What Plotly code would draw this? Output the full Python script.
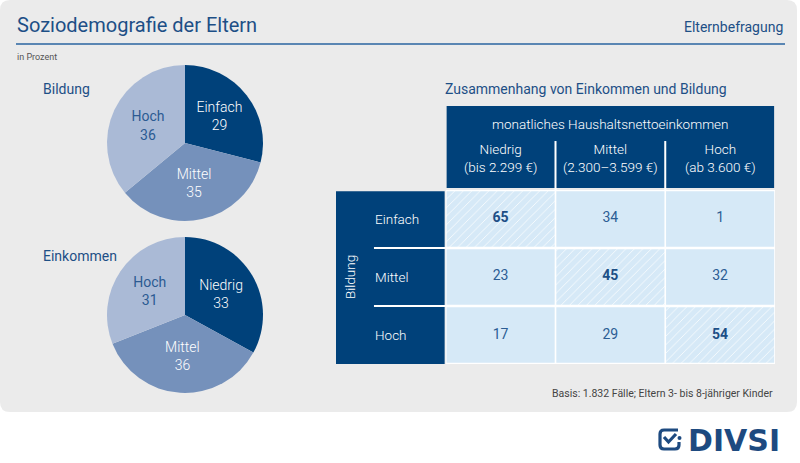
import plotly.graph_objects as go

W, H = 800, 463

# pie data
edu_labels = ["Einfach", "Mittel", "Hoch"]
edu_values = [29, 35, 36]
inc_labels = ["Niedrig", "Mittel", "Hoch"]
inc_values = [33, 36, 31]

# cross table data
col_names = ["Niedrig", "Mittel", "Hoch"]
col_ranges = ["(bis 2.299 €)", "(2.300–3.599 €)", "(ab 3.600 €)"]
row_names = ["Einfach", "Mittel", "Hoch"]
matrix = [
    [65, 34, 1],
    [23, 45, 32],
    [17, 29, 54],
]

DARK = "#00417a"
MID = "#7591bb"
LIGHT = "#aabad6"
CELL = "#d6e9f7"
TXT = "#1d4f86"
BG = "#ebebeb"
FONT = "Roboto"
LIGHTW = 300


def px(x):
    return x / W


def py(y):
    return 1 - y / H


def rounded_rect(x0, y0, x1, y1, r):
    # path in paper coords from pixel box (top-left origin)
    rx, ry = r / W, r / H
    a, b, c, d = px(x0), px(x1), py(y0), py(y1)
    return (
        f"M {a + rx},{c} L {b - rx},{c} Q {b},{c} {b},{c - ry} "
        f"L {b},{d + ry} Q {b},{d} {b - rx},{d} L {a + rx},{d} "
        f"Q {a},{d} {a},{d + ry} L {a},{c - ry} Q {a},{c} {a + rx},{c} Z"
    )


fig = go.Figure()

pie_colors = [DARK, MID, LIGHT]
pie_text_colors = ["white", "white", "#2c5a92"]

for labels, values, top, bottom in [
    (edu_labels, edu_values, 65, 221),
    (inc_labels, inc_values, 237, 393),
]:
    fig.add_trace(
        go.Pie(
            labels=labels,
            values=values,
            sort=False,
            direction="clockwise",
            rotation=0,
            marker=dict(colors=pie_colors, line=dict(width=0)),
            texttemplate="%{label}<br>%{value}",
            textposition="inside",
            insidetextorientation="horizontal",
            textfont=dict(family=FONT, size=14, color=pie_text_colors, weight=[300, 300, 400]),
            domain=dict(x=[px(107), px(263)], y=[py(bottom), py(top)]),
            showlegend=False,
            hoverinfo="skip",
        )
    )

# table cells as bars on their own axes
g = 0.02
cx, cbase, cy, shapes_pat, ctext = [], [], [], [], []
for r, row in enumerate(matrix):
    for c, v in enumerate(row):
        cx.append(c)
        cbase.append(r - 0.5 + g)
        cy.append(1 - 2 * g)
        shapes_pat.append("/" if r == c else "")
        ctext.append(f"<b>{v}</b>" if r == c else str(v))

fig.add_trace(
    go.Bar(
        x=cx,
        y=cy,
        base=cbase,
        width=0.985,
        marker=dict(
            color=CELL,
            line=dict(width=0),
            pattern=dict(shape=shapes_pat, fgcolor="white", bgcolor=CELL,
                         size=6, solidity=0.12, fillmode="replace"),
        ),
        xaxis="x3",
        yaxis="y3",
        showlegend=False,
        hoverinfo="skip",
    )
)
fig.add_trace(
    go.Scatter(
        x=cx,
        y=[b - g + 0.5 for b in cbase],
        mode="text",
        text=ctext,
        textfont=dict(family=FONT, size=14,
                      color=[TXT if r == c else "#2c5d94" for r in range(3) for c in range(3)]),
        xaxis="x3",
        yaxis="y3",
        showlegend=False,
        hoverinfo="skip",
    )
)

Y_TOP = -1.948
shapes = [
    dict(type="path", path=rounded_rect(0, 0, 797, 412, 10), xref="paper", yref="paper",
         fillcolor=BG, line=dict(width=0), layer="below"),
    dict(type="line", xref="paper", yref="paper", x0=px(16), x1=px(785), y0=py(44), y1=py(44),
         line=dict(color="#2a64a0", width=1.5)),
    # white backing of data cells
    dict(type="rect", xref="x3", yref="y3", x0=-0.5, x1=2.505, y0=-0.5, y1=2.52,
         fillcolor="white", line=dict(width=0), layer="below"),
    # column header block
    dict(type="rect", xref="x3", yref="y3", x0=-0.5 + 0.008, x1=2.5 - 0.008, y0=Y_TOP, y1=-0.5 - 0.035,
         fillcolor=DARK, line=dict(width=0)),
    # row header block
    dict(type="rect", xref="x3", yref="y3", x0=-1.5, x1=-0.5 - 0.01, y0=-0.5 + 0.02, y1=2.5,
         fillcolor=DARK, line=dict(width=0)),
]
for xs in [0.5, 1.5]:
    shapes.append(dict(type="line", xref="x3", yref="y3", x0=xs, x1=xs, y0=-1.344, y1=-0.5,
                       line=dict(color="white", width=2)))
for ys in [0.5, 1.5]:
    shapes.append(dict(type="line", xref="x3", yref="y3", x0=-1.154, x1=-0.5, y0=ys, y1=ys,
                       line=dict(color="white", width=2)))

# logo icon
LOGO = "#1d4a80"
shapes.append(dict(type="path", xref="paper", yref="paper",
                   path=(f"M {px(678)},{py(430)} L {px(664)},{py(430)} Q {px(660)},{py(430)} {px(660)},{py(434)} "
                         f"L {px(660)},{py(445)} Q {px(660)},{py(449)} {px(664)},{py(449)} "
                         f"L {px(675)},{py(449)} Q {px(679)},{py(449)} {px(679)},{py(445)} L {px(679)},{py(442)}"),
                   line=dict(color=LOGO, width=3.2)))
shapes.append(dict(type="path", xref="paper", yref="paper",
                   path=f"M {px(664)},{py(437)} L {px(668.5)},{py(442)} L {px(676)},{py(434)}",
                   line=dict(color=LOGO, width=3.2)))
shapes.append(dict(type="circle", xref="paper", yref="paper",
                   x0=px(677.5), x1=px(681.5), y0=py(440), y1=py(436),
                   fillcolor=LOGO, line=dict(width=0)))

ann = []


def label(x, y, text, size, color=TXT, xanchor="left", xref="paper", yref="paper", **kw):
    ann.append(dict(x=x, y=y, xref=xref, yref=yref, text=text, showarrow=False,
                    xanchor=xanchor, yanchor="middle",
                    font=dict(family=kw.pop("family", FONT), size=size, color=color,
                              weight=kw.pop("weight", 400)), **kw))


label(px(15), py(25), "Soziodemografie der Eltern", 20)
label(px(785), py(27), "Elternbefragung", 14, xanchor="right")
label(px(15), py(57), "in Prozent", 9, color="#555555")
label(px(41), py(89), "Bildung", 14)
label(px(41), py(256), "Einkommen", 14)
label(px(443), py(89), "Zusammenhang von Einkommen und Bildung", 14)
label(px(775), py(393), "Basis: 1.832 Fälle; Eltern 3- bis 8-jähriger Kinder", 10.5,
      color="#444444", xanchor="right")
label(px(686), py(440), "DIVSI", 30, color=LOGO, family="DejaVu Sans", weight=700)

label(1, -1.638, "monatliches Haushaltsnettoeinkommen", 13.5, color="white",
      xanchor="center", xref="x3", yref="y3", weight=LIGHTW)
for c in range(3):
    label(c, -1.043, f"{col_names[c]}<br>{col_ranges[c]}", 13.5, color="white",
          xanchor="center", xref="x3", yref="y3", weight=LIGHTW)
for r in range(3):
    label(-1.16, r, row_names[r], 13.5, color="white", xref="x3", yref="y3", weight=LIGHTW)
label(-1.372, 1, "Bildung", 13.5, color="white", xanchor="center", xref="x3", yref="y3",
      textangle=-90, weight=LIGHTW)

fig.update_layout(
    width=W,
    height=H,
    margin=dict(l=0, r=0, t=0, b=0),
    paper_bgcolor="white",
    plot_bgcolor="rgba(0,0,0,0)",
    barmode="overlay",
    shapes=shapes,
    annotations=ann,
    xaxis3=dict(domain=[px(336), px(775)], range=[-1.5, 2.5], visible=False,
                fixedrange=True, anchor="y3"),
    yaxis3=dict(domain=[py(364), py(106)], range=[2.5, Y_TOP], visible=False,
                fixedrange=True, anchor="x3"),
)

# drop the default page margin so the figure sits at the window corner
fig.write_html("out.html", config={"displayModeBar": False},
               post_script="document.body.style.margin='0';")
